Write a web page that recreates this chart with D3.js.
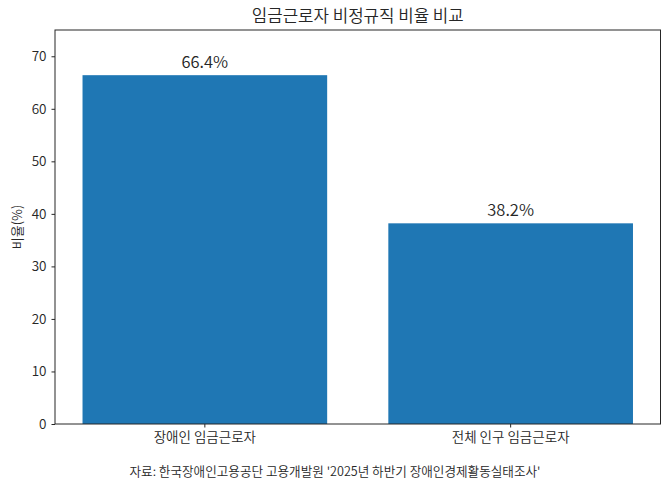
<!DOCTYPE html>
<html>
<head>
<meta charset="utf-8">
<script src="https://cdn.jsdelivr.net/npm/d3@7"></script>
<style>
  body { margin: 0; background: #fff; }
  text { font-family: "Noto Sans CJK KR", "Noto Sans", sans-serif; font-weight: 350; fill: #262626; }
</style>
</head>
<body>
<svg id="chart" width="670" height="487"></svg>
<script>
// 데이터
const categories = ["장애인 임금근로자", "전체 인구 임금근로자"];
const values = [66.4, 38.2];
const yTicks = [0, 10, 20, 30, 40, 50, 60, 70];

const W = 670, H = 487;
const axLeft = 55, axRight = 660.5, axTop = 30, axBottom = 424;

const svg = d3.select("#chart");

const x = d3.scaleBand()
  .domain(categories)
  .range([axLeft, axRight])
  .paddingInner(0.2)
  .paddingOuter(0.09);

const y = d3.scaleLinear()
  .domain([0, 75])
  .range([axBottom, axTop]);

// 막대
svg.append("g")
  .selectAll("rect")
  .data(values)
  .enter()
  .append("rect")
  .attr("x", (d, i) => x(categories[i]))
  .attr("width", x.bandwidth())
  .attr("y", d => y(d))
  .attr("height", d => axBottom - y(d))
  .style("fill", "#1f77b4");

// 값 라벨
svg.append("g")
  .selectAll("text")
  .data(values)
  .enter()
  .append("text")
  .attr("x", (d, i) => x(categories[i]) + x.bandwidth() / 2)
  .attr("y", d => y(d) - 7)
  .style("text-anchor", "middle")
  .style("font-size", "16.5px")
  .text(d => d.toFixed(1) + "%");

// Y축
const yAxis = svg.append("g")
  .attr("transform", "translate(" + axLeft + ",0)")
  .call(d3.axisLeft(y).tickValues(yTicks).tickSize(3.5).tickPadding(5));
yAxis.select(".domain").remove();
yAxis.selectAll("text").style("font-size", "13.5px").style("fill", "#262626");
yAxis.selectAll("line").style("stroke", "#262626");

// X축
const xAxis = svg.append("g")
  .attr("transform", "translate(0," + axBottom + ")")
  .call(d3.axisBottom(x).tickSize(3.5).tickPadding(5));
xAxis.select(".domain").remove();
xAxis.selectAll("text").style("font-size", "13.5px").style("fill", "#262626");
xAxis.selectAll("line").style("stroke", "#262626");

// 테두리
svg.append("rect")
  .attr("x", axLeft)
  .attr("y", axTop)
  .attr("width", axRight - axLeft)
  .attr("height", axBottom - axTop)
  .style("fill", "none")
  .style("stroke", "#262626")
  .style("stroke-width", 1);

// 제목
svg.append("text")
  .attr("x", (axLeft + axRight) / 2)
  .attr("y", axTop - 8)
  .style("text-anchor", "middle")
  .style("font-size", "16.8px")
  .text("임금근로자 비정규직 비율 비교");

// Y축 제목
svg.append("text")
  .attr("transform", "translate(22," + ((axTop + axBottom) / 2) + ") rotate(-90)")
  .style("text-anchor", "middle")
  .style("font-size", "13px")
  .text("비율(%)");

// 출처
svg.append("text")
  .attr("x", W / 2)
  .attr("y", 476)
  .style("text-anchor", "middle")
  .style("font-size", "12.6px")
  .text("자료: 한국장애인고용공단 고용개발원 '2025년 하반기 장애인경제활동실태조사'");
</script>
</body>
</html>
